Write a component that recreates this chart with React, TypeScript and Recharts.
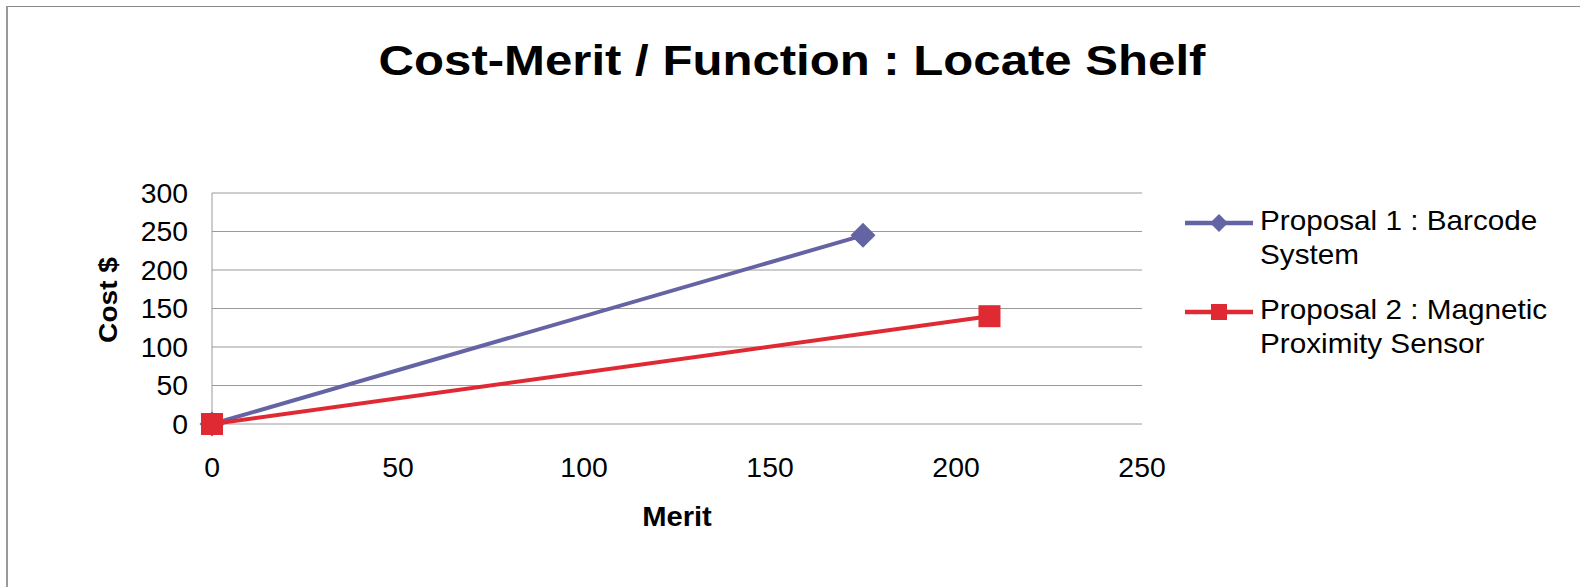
import React from 'react';
import { LineChart, Line, XAxis, YAxis, CartesianGrid, Legend } from 'recharts';

// Values
const meritBarcode = [0, 175];
const costBarcode = [0, 245];
const meritMagnetic = [0, 209];
const costMagnetic = [0, 140];

const xTicks = [0, 50, 100, 150, 200, 250];
const yTicks = [0, 50, 100, 150, 200, 250, 300];

const seriesNames = ['Proposal 1 : Barcode System', 'Proposal 2 : Magnetic Proximity Sensor'];
// where each legend name wraps to a second line
const legendLines = [
  ['Proposal 1 : Barcode', 'System'],
  ['Proposal 2 : Magnetic', 'Proximity Sensor'],
];

const barcodeData = meritBarcode.map((m, i) => ({ merit: m, cost: costBarcode[i] }));
const magneticData = meritMagnetic.map((m, i) => ({ merit: m, cost: costMagnetic[i] }));

const BLUE = '#6464a4';
const RED = '#e02a33';
const FONT = '"Liberation Sans", Arial, sans-serif';

const Diamond = ({ cx, cy, r = 12.5, fill = BLUE }: any) =>
  cx == null ? null : (
    <polygon points={`${cx},${cy - r} ${cx + r},${cy} ${cx},${cy + r} ${cx - r},${cy}`} fill={fill} />
  );

const Square = ({ cx, cy, s = 22, fill = RED }: any) =>
  cx == null ? null : <rect x={cx - s / 2} y={cy - s / 2} width={s} height={s} fill={fill} />;

const XTick = ({ x, y, payload }: any) => (
  <text
    transform={`translate(${x},${y + 45}) scale(1.05,1)`}
    textAnchor="middle"
    fontSize={27}
    fontFamily={FONT}
    fill="#000"
  >
    {payload.value}
  </text>
);

const YTick = ({ x, y, payload }: any) => (
  <text
    transform={`translate(${x - 16},${y}) scale(1.05,1)`}
    textAnchor="end"
    dy="0.36em"
    fontSize={27}
    fontFamily={FONT}
    fill="#000"
  >
    {payload.value}
  </text>
);

const LegendContent = () => {
  const rows = [
    { color: BLUE, lineY: 33, marker: 'diamond' },
    { color: RED, lineY: 122, marker: 'square' },
  ];
  return (
    <svg width={410} height={200} style={{ display: 'block' }}>
      {rows.map((r, i) => (
        <g key={i}>
          <line x1={15} x2={83} y1={r.lineY} y2={r.lineY} stroke={r.color} strokeWidth={4.5} />
          {r.marker === 'diamond' ? (
            <Diamond cx={49} cy={r.lineY} r={9} fill={r.color} />
          ) : (
            <Square cx={49} cy={r.lineY} s={16} fill={r.color} />
          )}
          {legendLines[i].map((t, j) => (
            <text
              key={j}
              transform={`translate(90,${r.lineY + 7 + j * 34}) scale(1.1,1)`}
              fontSize={27}
              fontFamily={FONT}
              fill="#000"
            >
              {t}
            </text>
          ))}
        </g>
      ))}
    </svg>
  );
};

export default function App() {
  return (
    <div style={{ position: 'absolute', left: 0, top: 0, width: 1580, height: 587, background: '#fff' }}>
      <div
        style={{
          position: 'absolute',
          left: 6,
          top: 6,
          right: 0,
          bottom: 0,
          borderTop: '1px solid #8a8a8a',
          borderLeft: '2px solid #9a9a9a',
        }}
      />
      <LineChart
        width={1580}
        height={587}
        margin={{ top: 193, right: 438, left: 90, bottom: 63 }}
        style={{ position: 'absolute', left: 0, top: 0 }}
      >
        <CartesianGrid vertical={false} stroke="#9a9a9a" />
        <XAxis
          type="number"
          dataKey="merit"
          domain={[0, 250]}
          ticks={xTicks}
          axisLine={false}
          tickLine={false}
          tick={<XTick />}
          height={100}
          interval={0}
          allowDuplicatedCategory={false}
          label={{
            content: () => (
              <text
                transform="translate(677,526) scale(1.08,1)"
                textAnchor="middle"
                fontSize={27}
                fontWeight="bold"
                fontFamily={FONT}
                fill="#000"
              >
                Merit
              </text>
            ),
          }}
        />
        <YAxis
          type="number"
          dataKey="cost"
          domain={[0, 300]}
          ticks={yTicks}
          axisLine={{ stroke: '#9a9a9a' }}
          tickLine={false}
          tick={<YTick />}
          width={122}
          interval={0}
          label={{
            content: () => (
              <text
                transform="translate(117,300) rotate(-90) scale(1.08,1)"
                textAnchor="middle"
                fontSize={26}
                fontWeight="bold"
                fontFamily={FONT}
                fill="#000"
              >
                Cost $
              </text>
            ),
          }}
        />
        <Legend
          layout="vertical"
          align="center"
          verticalAlign="middle"
          content={<LegendContent />}
          wrapperStyle={{ left: 1170, top: 190, width: 410, height: 200 }}
        />
        <Line
          data={barcodeData}
          dataKey="cost"
          name={seriesNames[0]}
          type="linear"
          stroke={BLUE}
          strokeWidth={4}
          dot={(p: any) => <Diamond key={`d${p.index}`} cx={p.cx} cy={p.cy} />}
          activeDot={false}
          isAnimationActive={false}
        />
        <Line
          data={magneticData}
          dataKey="cost"
          name={seriesNames[1]}
          type="linear"
          stroke={RED}
          strokeWidth={4}
          dot={(p: any) => <Square key={`s${p.index}`} cx={p.cx} cy={p.cy} />}
          activeDot={false}
          isAnimationActive={false}
        />
      </LineChart>
      <svg
        width={1580}
        height={100}
        style={{ position: 'absolute', left: 0, top: 0, pointerEvents: 'none' }}
      >
        <text
          transform="translate(792,75) scale(1.17,1)"
          textAnchor="middle"
          fontSize={42}
          fontWeight="bold"
          fontFamily={FONT}
          fill="#000"
        >
          Cost-Merit / Function : Locate Shelf
        </text>
      </svg>
    </div>
  );
}
